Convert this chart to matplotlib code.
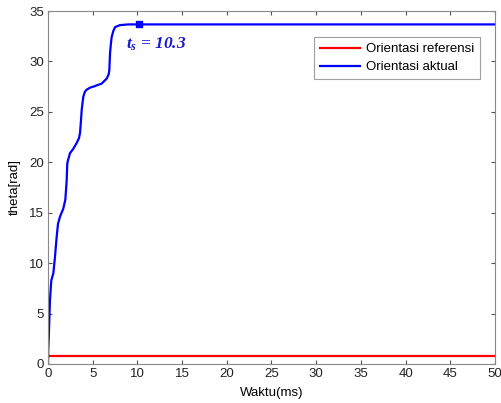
import matplotlib
matplotlib.use("Agg")
import matplotlib.pyplot as plt

# data
ref_t = [0, 50]
ref_theta = [0.8, 0.8]
act_t = [0.0, 0.03, 0.08, 0.15, 0.22, 0.37, 0.6, 0.78, 0.97, 1.12, 1.34, 1.71, 1.94, 2.09, 2.16,
         2.24, 2.46, 2.8, 3.2, 3.47, 3.58, 3.68, 3.77, 3.95, 4.13, 4.33, 4.7, 5.07, 6.0, 6.57,
         6.78, 6.86, 6.94, 7.03, 7.12, 7.3, 7.5, 8.05, 9.0, 10.2, 50.0]
act_theta = [0.0, 1.5, 2.5, 4.4, 6.3, 8.3, 9.0, 10.6, 12.6, 13.9, 14.6, 15.4, 16.3, 18.2, 19.9,
             20.2, 20.9, 21.3, 21.9, 22.4, 22.9, 24.0, 25.2, 26.5, 27.0, 27.2, 27.4, 27.5, 27.8, 28.3,
             28.7, 29.1, 30.8, 31.7, 32.4, 33.0, 33.4, 33.6, 33.67, 33.67, 33.67]
ts_value = 10.2
ts_theta = 33.67

plt.rcParams['font.family'] = ['Liberation Sans', 'DejaVu Sans']
plt.rcParams['mathtext.fontset'] = 'custom'
plt.rcParams['mathtext.it'] = 'Liberation Serif:bold:italic'
plt.rcParams['mathtext.rm'] = 'Liberation Serif:bold'

fig = plt.figure(figsize=(5.02, 4.03), dpi=100)
ax = fig.add_axes([0.0956, 0.0968, 0.8904, 0.8759])

ax.plot(ref_t, ref_theta, color='#ff0000', lw=1.6, label='Orientasi referensi')
ax.plot(act_t, act_theta, color='#0000ff', lw=1.6, label='Orientasi aktual',
        solid_joinstyle='round')
ax.plot([ts_value], [ts_theta], marker='s', color='#0000ff', ms=4)
ax.text(8.7, 31.7, r"$t_s$ = 10.3", color='#1a1ad0', fontsize=12.5, fontweight='bold',
        fontstyle='italic', family='Liberation Serif', va='center', ha='left')

ax.set_xlim(0, 50)
ax.set_ylim(0, 35)
ax.set_xticks(range(0, 51, 5))
ax.set_yticks(range(0, 36, 5))
ax.tick_params(direction='in', top=True, right=True, labelsize=9.5, length=3, color='#555555',
               labelcolor='#222222', pad=3)
for s in ax.spines.values():
    s.set_color('#888888')
    s.set_linewidth(0.8)
ax.set_xlabel('Waktu(ms)', fontsize=9.5, labelpad=5)
ax.set_ylabel('theta[rad]', fontsize=9.5, labelpad=6)

leg = ax.legend(loc='upper right', bbox_to_anchor=(0.982, 0.945), fontsize=9.5, frameon=True,
                fancybox=False, edgecolor='#888888', handlelength=3.0, borderpad=0.45,
                labelspacing=0.45, handletextpad=0.5)
leg.get_frame().set_linewidth(0.8)

fig.savefig('out.png', dpi=100)
